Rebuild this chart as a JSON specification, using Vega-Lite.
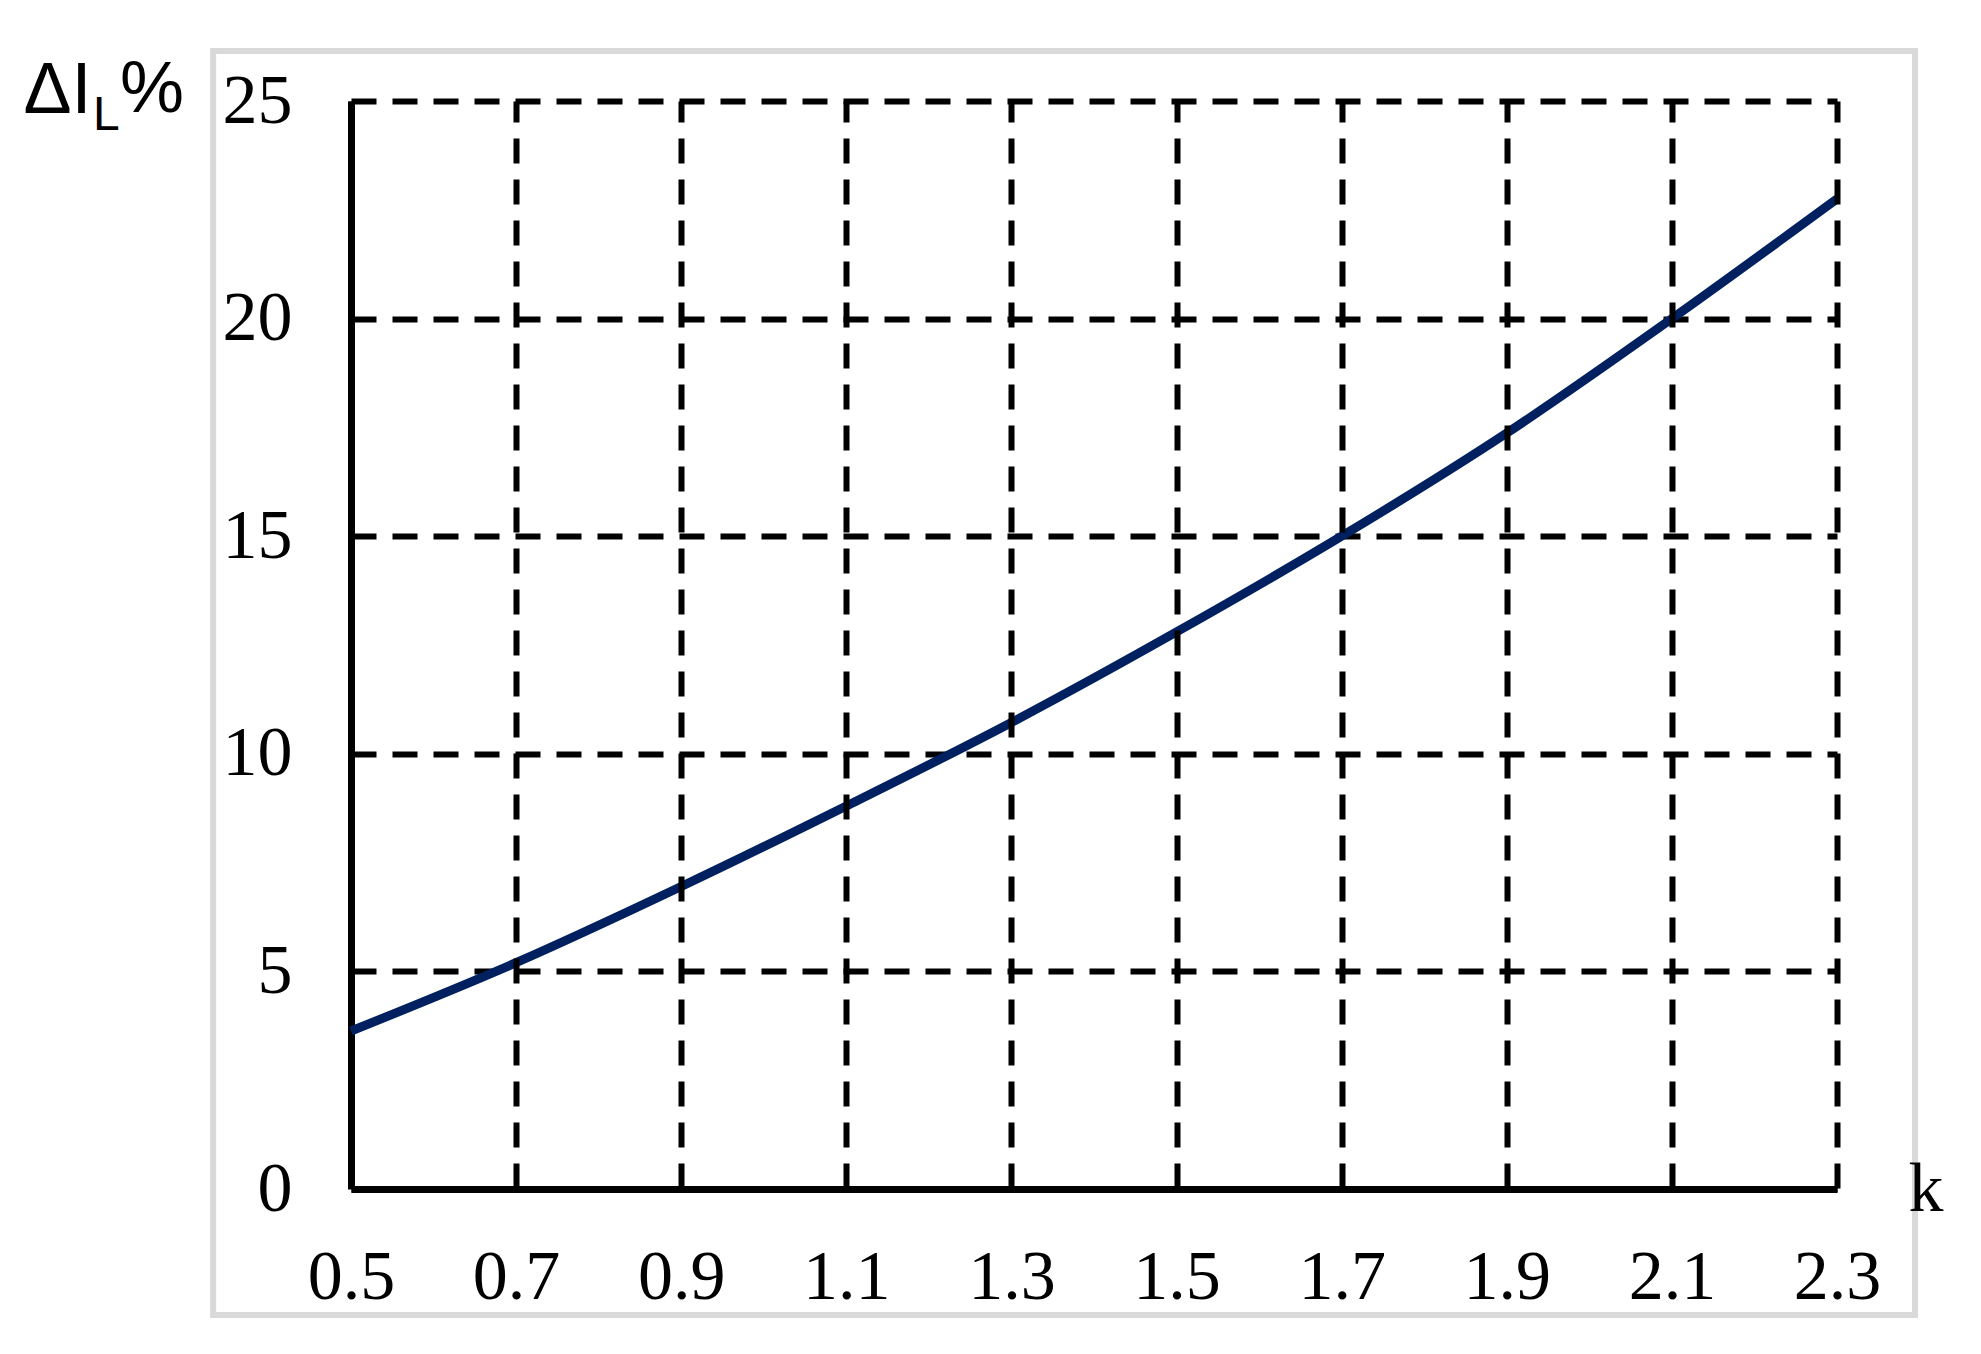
{
  "$schema": "https://vega.github.io/schema/vega-lite/v6.json",
  "width": 1486,
  "height": 1088,
  "autosize": "none",
  "padding": {"left": 351, "top": 101, "right": 144, "bottom": 165},
  "background": "white",
  "config": {"view": {"stroke": null}},
  "layer": [
    {
      "data": {"values": [{}]},
      "mark": {"type": "rect", "fill": null, "stroke": "#d9d9d9", "strokeWidth": 6, "clip": false},
      "encoding": {
        "x": {"datum": 0.333, "type": "quantitative", "scale": {"domain": [0.5, 2.3], "nice": false, "zero": false}},
        "x2": {"datum": 2.3945},
        "y": {"datum": 26.15, "type": "quantitative", "scale": {"domain": [0, 25], "nice": false, "zero": false}},
        "y2": {"datum": -2.895}
      }
    },
    {
      "data": {"values": [
        {"k": 0.5, "v": 3.63},
        {"k": 0.7, "v": 5.2},
        {"k": 0.9, "v": 6.95},
        {"k": 1.1, "v": 8.8},
        {"k": 1.3, "v": 10.72},
        {"k": 1.5, "v": 12.8},
        {"k": 1.7, "v": 15.0},
        {"k": 1.9, "v": 17.37},
        {"k": 2.1, "v": 20.0},
        {"k": 2.3, "v": 22.75}
      ]},
      "mark": {"type": "line", "color": "#002060", "strokeWidth": 9, "interpolate": "monotone", "clip": false},
      "encoding": {
        "x": {
          "field": "k", "type": "quantitative",
          "scale": {"domain": [0.5, 2.3], "nice": false, "zero": false},
          "axis": {
            "values": [0.5, 0.7, 0.9, 1.1, 1.3, 1.5, 1.7, 1.9, 2.1, 2.3],
            "format": ".1f",
            "zindex": 1,
            "labelFont": "Liberation Serif", "labelFontSize": 70, "labelColor": "black",
            "labelPadding": 54, "labelBaseline": "top", "labelFlush": false, "labelOverlap": false,
            "ticks": false,
            "domainColor": "black", "domainWidth": 7,
            "grid": true, "gridColor": "black", "gridWidth": 6, "gridDash": [25, 16], "gridDashOffset": 4, "gridOpacity": 1,
            "title": "k", "titleFont": "Liberation Serif", "titleFontSize": 70, "titleFontWeight": "normal", "titleColor": "black",
            "titleX": 1557, "titleY": 21, "titleAlign": "left", "titleBaseline": "alphabetic", "titleAnchor": null
          }
        },
        "y": {
          "field": "v", "type": "quantitative",
          "scale": {"domain": [0, 25], "nice": false, "zero": false},
          "axis": {
            "values": [0, 5, 10, 15, 20, 25],
            "labelFont": "Liberation Serif", "labelFontSize": 70, "labelColor": "black",
            "labelPadding": 59, "labelBaseline": "middle", "labelFlush": false, "labelOverlap": false,
            "ticks": false,
            "domainColor": "black", "domainWidth": 7,
            "grid": true, "gridColor": "black", "gridWidth": 6, "gridDash": [25, 16], "gridOpacity": 1,
            "title": "ΔI", "titleFont": "Liberation Sans", "titleFontSize": 72, "titleFontWeight": "normal", "titleColor": "black",
            "titleAngle": 0, "titleX": -328, "titleY": 11, "titleAlign": "left", "titleBaseline": "alphabetic", "titleAnchor": null
          }
        }
      }
    },
    {
      "data": {"values": [{}]},
      "mark": {"type": "text", "text": "L", "font": "Liberation Sans", "fontSize": 48, "color": "black", "align": "left", "baseline": "alphabetic", "dx": -258, "dy": 29, "clip": false},
      "encoding": {
        "x": {"datum": 0.5, "type": "quantitative"},
        "y": {"datum": 25, "type": "quantitative"}
      }
    },
    {
      "data": {"values": [{}]},
      "mark": {"type": "text", "text": "%", "font": "Liberation Sans", "fontSize": 72, "color": "black", "align": "left", "baseline": "alphabetic", "dx": -231, "dy": 11, "clip": false},
      "encoding": {
        "x": {"datum": 0.5, "type": "quantitative"},
        "y": {"datum": 25, "type": "quantitative"}
      }
    }
  ]
}
